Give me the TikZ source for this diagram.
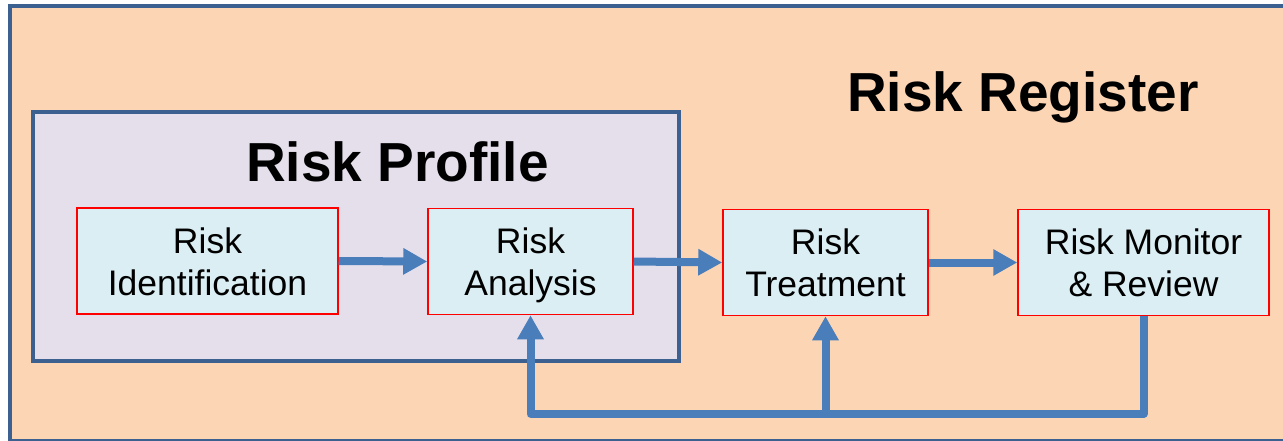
\documentclass[tikz,border=0pt]{standalone}
\usepackage{fontspec}
\setmainfont{Liberation Sans}
\usetikzlibrary{arrows.meta}
\definecolor{peach}{HTML}{FCD5B5}
\definecolor{lilac}{HTML}{E5DFEC}
\definecolor{paleblue}{HTML}{DAEEF3}
\definecolor{frameblue}{HTML}{3C6190}
\definecolor{arrowblue}{HTML}{4A7EBB}
\newcommand\linestrut{\rule[-8pt]{0pt}{42pt}}
\tikzset{
  frame/.style={draw=frameblue, line width=4.5pt},
  stepbox/.style={draw=red, line width=1.5pt, fill=paleblue, align=center,
    inner sep=0pt, minimum height=106pt,
    font=\fontsize{35.5}{42}\selectfont},
  title/.style={anchor=base, font=\fontsize{55}{60}\selectfont\bfseries},
  flow/.style={draw=arrowblue, line width=8pt, line join=round,
    -{Triangle[length=24pt,width=25pt]}}
}
\begin{document}
\begin{tikzpicture}[x=1pt,y=-1pt]
\useasboundingbox (0,0) rectangle (1283,441);
\clip (0,0) rectangle (1283,441);
\fill[white] (0,0) rectangle (1283,441);
\draw[frame, fill=peach] (10,6) rectangle (1300,441);
\draw[frame, fill=lilac] (33,112) rectangle (679,361);
\node[title] (reg) at (1023,112) {Risk Register};
\node[title] (prof) at (397.5,182) {Risk Profile};
\node[stepbox, minimum width=261pt] (ide) at (207.5,261) {\linestrut Risk\\\linestrut Identification};
\node[stepbox, minimum width=205pt] (ana) at (530.5,261.5) {\linestrut Risk\\\linestrut Analysis};
\node[stepbox, minimum width=205pt] (tre) at (825.5,262.5) {\linestrut Risk\\\linestrut Treatment};
\node[stepbox, minimum width=251pt] (mon) at (1143.5,262.5) {\linestrut Risk Monitor\\\linestrut \& Review};
\coordinate (low) at (0,414);
\draw[flow] (ide.east) -- (ana.west);
\draw[flow] (ana.east) -- (tre.west);
\draw[flow] (tre.east) -- (mon.west);
\draw[flow] (mon.south) -- (mon.south |- low) -- (ana.south |- low) -- (ana.south);
\draw[flow] (tre.south |- low) -- (tre.south);
\end{tikzpicture}
\end{document}
